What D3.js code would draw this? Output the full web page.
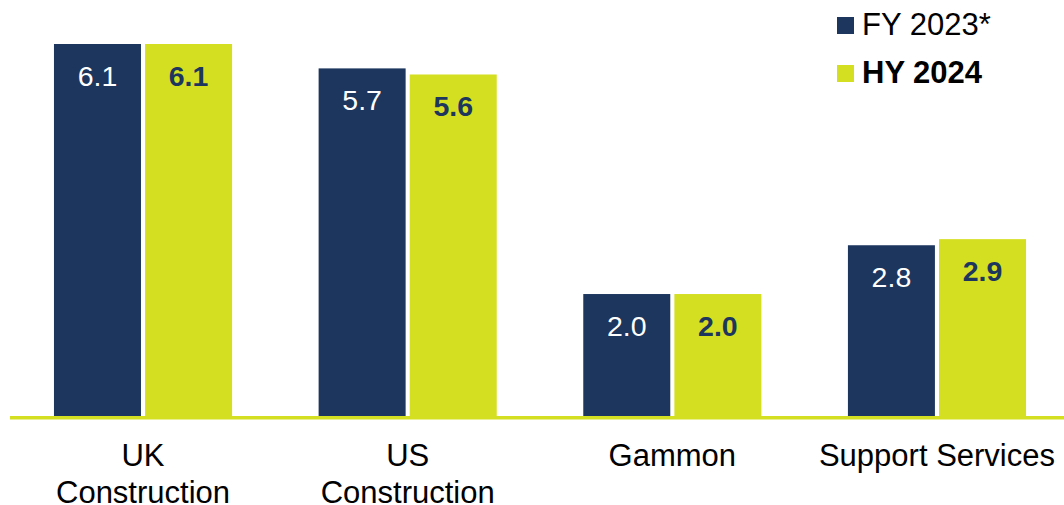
<!DOCTYPE html>
<html>
<head>
<meta charset="utf-8">
<script src="https://cdn.jsdelivr.net/npm/d3@7"></script>
<style>
  html, body { margin: 0; padding: 0; background: #fff; overflow: hidden; }
  svg { display: block; font-family: "Liberation Sans", Arial, sans-serif; }
</style>
</head>
<body>
<svg id="chart" width="1064" height="505"></svg>
<script>
const categories = [["UK", "Construction"], ["US", "Construction"], ["Gammon"], ["Support Services"]];
const categoryKeys = ["UK Construction", "US Construction", "Gammon", "Support Services"];
const seriesNames = ["FY 2023*", "HY 2024"];
const fy2023 = [6.1, 5.7, 2.0, 2.8];
const hy2024 = [6.1, 5.6, 2.0, 2.9];
const seriesValues = [fy2023, hy2024];

const navy = "#1c365e";
const lime = "#d5df21";
const colors = [navy, lime];
const labelColors = ["#ffffff", navy];
const labelWeights = ["normal", "bold"];

const svg = d3.select("#chart");
const baseline = 416;

const x0 = d3.scaleBand()
  .domain(categoryKeys)
  .range([10.7, 1069.3])
  .paddingInner(0.327)
  .paddingOuter(0.1635);

const x1 = d3.scaleBand()
  .domain(seriesNames)
  .range([0, x0.bandwidth()])
  .paddingInner(0.045);

const y = d3.scaleLinear()
  .domain([0, 6.1])
  .range([baseline, 44]);

const data = [];
categoryKeys.forEach((c, i) => {
  seriesNames.forEach((s, j) => {
    data.push({ cat: c, series: s, si: j, value: seriesValues[j][i] });
  });
});

// bars
svg.append("g").selectAll("rect")
  .data(data)
  .join("rect")
  .attr("x", d => x0(d.cat) + x1(d.series))
  .attr("y", d => y(d.value))
  .attr("width", x1.bandwidth())
  .attr("height", d => baseline - y(d.value))
  .attr("fill", d => colors[d.si]);

// value labels
svg.append("g").selectAll("text")
  .data(data)
  .join("text")
  .attr("x", d => x0(d.cat) + x1(d.series) + x1.bandwidth() / 2)
  .attr("y", d => y(d.value) + 42)
  .attr("text-anchor", "middle")
  .attr("font-size", 28.5)
  .attr("font-weight", d => labelWeights[d.si])
  .attr("fill", d => labelColors[d.si])
  .text(d => d.value.toFixed(1));

// axis baseline
svg.append("line")
  .attr("x1", 10).attr("x2", 1064)
  .attr("y1", baseline + 1.8).attr("y2", baseline + 1.8)
  .attr("stroke", lime)
  .attr("stroke-width", 3.6);

// category labels
const catG = svg.append("g");
categoryKeys.forEach((c, i) => {
  const t = catG.append("text")
    .attr("x", x0(c) + x0.bandwidth() / 2)
    .attr("y", 466)
    .attr("text-anchor", "middle")
    .attr("font-size", 31)
    .attr("fill", "#000");
  categories[i].forEach((line, k) => {
    t.append("tspan")
      .attr("x", x0(c) + x0.bandwidth() / 2)
      .attr("dy", k === 0 ? 0 : 36.5)
      .text(line);
  });
});

// legend
const legend = svg.append("g");
seriesNames.forEach((s, j) => {
  const gy = 17 + j * 48;
  legend.append("rect")
    .attr("x", 837).attr("y", gy)
    .attr("width", 17).attr("height", 17)
    .attr("fill", colors[j]);
  legend.append("text")
    .attr("x", 862).attr("y", gy + 18)
    .attr("font-size", 31)
    .attr("font-weight", labelWeights[j])
    .attr("fill", "#000")
    .text(s);
});
</script>
</body>
</html>
